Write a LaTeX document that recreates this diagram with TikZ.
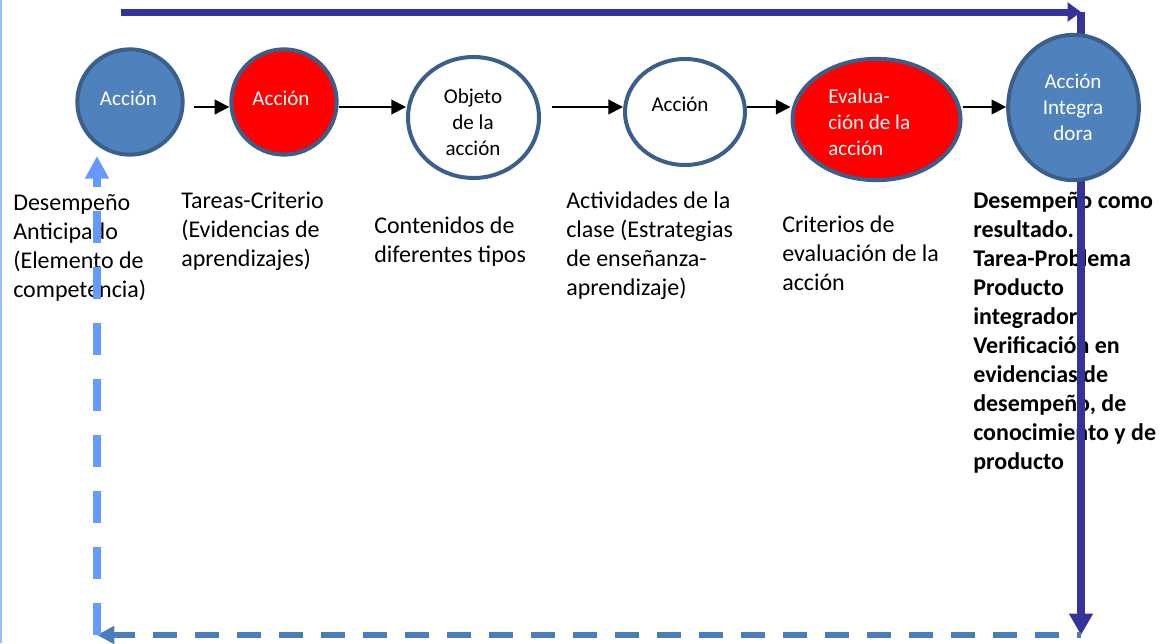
\documentclass[tikz,border=0pt]{standalone}
\usepackage{fontspec}
\setmainfont{Carlito}
\usetikzlibrary{arrows.meta,shapes.geometric}
\definecolor{cblue}{HTML}{4F81BD}
\definecolor{cborder}{HTML}{3A5F8B}
\definecolor{cdark}{HTML}{333399}
\definecolor{cdash}{HTML}{4A7EBB}
\definecolor{clight}{HTML}{6699FF}
\definecolor{cedge}{HTML}{99BBFF}
\begin{document}
\begin{tikzpicture}[x=0.75pt,y=-0.75pt,
  bubble/.style={ellipse, draw=cborder, line width=3pt, inner sep=0pt},
  intext/.style={font=\fontsize{15.8}{19.5}\selectfont, align=center, anchor=base, inner sep=0pt},
  lbl/.style={font=\fontsize{18}{21.75}\selectfont, align=left, anchor=base west, inner sep=0pt},
  flow/.style={draw=black, line width=1.5pt, -{Triangle[length=11pt,width=11pt]}},
  topline/.style={draw=cdark, line width=5.25pt, -{Triangle[length=10pt,width=14pt]}},
  downline/.style={draw=cdark, line width=6pt, -{Triangle[length=16pt,width=17pt]}},
  backline/.style={draw=cdash, line width=5pt, dash pattern=on 18pt off 13.5pt, dash phase=15pt, -{Triangle[length=13pt,width=13pt]}},
  upline/.style={draw=clight, line width=6pt, dash pattern=on 24pt off 18pt, -{Triangle[length=17pt,width=17pt]}}]
\useasboundingbox (0,0) rectangle (1163,643);
\draw[cedge, line width=1.5pt] (1,0) -- (1,643);

% labels (placed by the baseline of their last line)
\node[lbl] (l1) at (13,297) {Desempeño\\Anticipado\\(Elemento de\\competencia)};
\node[lbl] (l2) at (181,266) {Tareas-Criterio\\(Evidencias de\\aprendizajes)};
\node[lbl] (l3) at (374,262) {Contenidos de\\diferentes tipos};
\node[lbl] (l4) at (566,295) {Actividades de la\\clase (Estrategias\\de enseñanza-\\aprendizaje)};
\node[lbl] (l5) at (782,290) {Criterios de\\evaluación de la\\acción};
\node[lbl, font=\fontsize{18}{21.75}\selectfont\bfseries] (l6) at (973,469) {Desempeño como\\resultado.\\Tarea-Problema\\Producto\\integrador\\Verificación en\\evidencias de\\desempeño, de\\conocimiento y de\\producto};

% loop lines
\coordinate (tl) at (121,12);
\coordinate (tr) at (1081,12);
\coordinate (br) at (1081,635);
\coordinate (bl) at (97,635);
\coordinate (lu) at (97,156);
\draw[topline] (tl) -- (tr);
\draw[downline] (tr) -- (br);
\draw[backline] (br) -- (bl);
\draw[upline] (bl) -- (lu);

% bubbles
\node[bubble, fill=cblue, minimum width=79pt, minimum height=79pt] (c1) at (130,102) {};
\node[bubble, fill=red, minimum width=79pt, minimum height=79pt] (c2) at (284,102) {};
\node[bubble, fill=white, minimum width=98.25pt, minimum height=90.75pt] (c3) at (473.5,117.5) {};
\node[bubble, fill=white, minimum width=90pt, minimum height=79.5pt] (c4) at (685,112) {};
\node[bubble, fill=red, minimum width=126pt, minimum height=91pt] (c5) at (876.5,119.5) {};
\node[bubble, fill=cblue, minimum width=98pt, minimum height=109pt] (c6) at (1073.5,107.5) {};

% bubble texts (placed by the baseline of their last line)
\node[intext, text=white] (t1) at (128.5,105) {Acción};
\node[intext, text=white] (t2) at (281,105) {Acción};
\node[intext] (t3) at (473,155) {Objeto\\de la\\acción};
\node[intext] (t4) at (680,111) {Acción};
\node[intext, text=white, align=left, anchor=base west] (t5) at (828,155) {Evalua-\\ción de la\\acción};
\node[intext, text=white] (t6) at (1073,140) {Acción\\Integra\\dora};

% flow arrows
\coordinate (ay) at (0,107);
\draw[flow, shorten <=7pt] (c1.east |- ay) -- (c2.west |- ay);
\draw[flow] (c2.east |- ay) -- (c3.west |- ay);
\draw[flow, shorten <=8pt] (c3.east |- ay) -- (c4.west |- ay);
\draw[flow] (c4.east |- ay) -- (c5.west |- ay);
\draw[flow] (c5.east |- ay) -- (c6.west |- ay);
\end{tikzpicture}
\end{document}
